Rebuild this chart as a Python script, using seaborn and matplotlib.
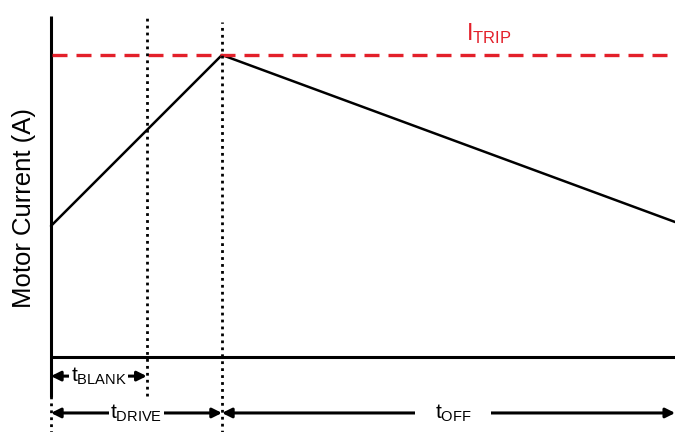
import numpy as np
import pandas as pd
import matplotlib
matplotlib.use("Agg")
import matplotlib.pyplot as plt
import seaborn as sns

# tempos normalizados (t_DRIVE = 1)
t_blank = 0.56
t_drive = 1.0
t_end = 3.65

# corrente normalizada (I_TRIP = 1)
i_trip = 1.0
tempo = [0.0, t_drive, t_end]
corrente = [0.434, i_trip, 0.447]

sns.set_style("white")
plt.rcParams["font.family"] = ["Liberation Sans", "DejaVu Sans"]
plt.rcParams["mathtext.default"] = "regular"
plt.rcParams["text.color"] = "black"

df = pd.DataFrame({"tempo": tempo, "corrente": corrente})

fig = plt.figure(figsize=(6.75, 4.32), dpi=100)
ax = fig.add_axes([0, 0, 1, 1])
ax.set_xlim(-0.298, 3.649)
ax.set_ylim(-0.248, 1.182)
ax.axis("off")

vermelho = "#e3202a"
pontilhado = (0, (1, 1.5))

# forma de onda da corrente
sns.lineplot(data=df, x="tempo", y="corrente", color="black", lw=1.8, ax=ax)

# eixos desenhados a mao
ax.plot([0, 0], [-0.132, 1.13], color="black", lw=2.2, solid_capstyle="butt")
ax.plot([0, t_end], [0, 0], color="black", lw=2.2)
ax.plot([0, 0], [-0.13, -0.25], color="black", lw=2, ls=pontilhado)

# limite de corrente
ax.plot([0.005, t_end], [i_trip, i_trip], color=vermelho, lw=2.4, ls=(0, (4.5, 2.7)))
ax.text(2.56, i_trip + 0.03, r"I$_{TRIP}$", color=vermelho, fontsize=17,
        ha="center", va="bottom")

# linhas pontilhadas verticais
ax.plot([t_blank, t_blank], [-0.13, 1.13], color="black", lw=2, ls=pontilhado)
ax.plot([t_drive, t_drive], [-0.25, 1.11], color="black", lw=2, ls=pontilhado)

# setas de tempo
seta = dict(arrowstyle="<|-|>", color="black", lw=2.2, mutation_scale=14,
            shrinkA=0, shrinkB=0)
y_blank = -0.063
y_drive = -0.185
ax.annotate("", xy=(0, y_blank), xytext=(t_blank, y_blank), arrowprops=seta)
ax.annotate("", xy=(0, y_drive), xytext=(t_drive, y_drive), arrowprops=seta)
ax.annotate("", xy=(t_drive, y_drive), xytext=(t_end, y_drive), arrowprops=seta)

caixa = dict(facecolor="white", edgecolor="none", pad=1)
ax.text(t_blank / 2, y_blank, r"t$_{BLANK}$", fontsize=15, ha="center", va="center", bbox=caixa)
ax.text(t_drive / 2, y_drive, r"t$_{DRIVE}$", fontsize=15, ha="center", va="center", bbox=caixa)
ax.text(2.35, y_drive, r"t$_{OFF}$", fontsize=15, ha="center", va="center",
        bbox=dict(facecolor="white", edgecolor="none", pad=14))

# rotulo do eixo y
ax.text(-0.16, 0.493, "Motor Current (A)", fontsize=18.5, rotation=90,
        ha="center", va="center")

fig.savefig("out.png", dpi=100)
plt.close(fig)
